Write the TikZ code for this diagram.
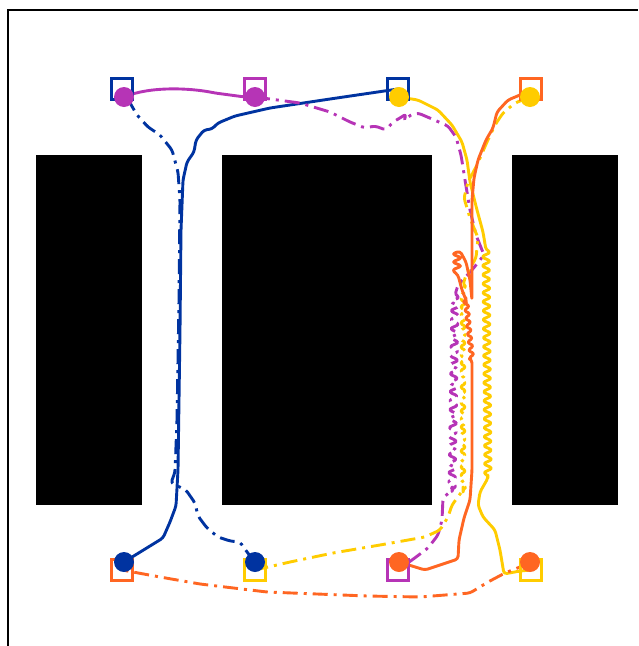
\documentclass[tikz,border=0pt]{standalone}
\usetikzlibrary{decorations.pathmorphing}
\definecolor{pblue}{RGB}{0,51,160}
\definecolor{pmag}{RGB}{182,52,182}
\definecolor{pyel}{RGB}{255,204,0}
\definecolor{pora}{RGB}{255,102,34}
\pgfdeclarelayer{walls}
\pgfdeclarelayer{trails}
\pgfsetlayers{walls,trails,main}
\begin{document}
\begin{tikzpicture}[x=1pt,y=-1pt,
  trail/.style={line width=2.9pt,line join=round,rounded corners=3pt},
  dd/.style={dash pattern=on 15pt off 6pt on 3pt off 6pt},
  goal/.style={rectangle,draw,line width=3.4pt,minimum size=21pt,inner sep=0pt},
  start/.style={circle,fill,minimum size=20pt,inner sep=0pt},
  zz/.style={decoration={zigzag,segment length=9pt,amplitude=5pt}},
  zs/.style={decoration={zigzag,segment length=8pt,amplitude=3.5pt}}]
\useasboundingbox (0,0) rectangle (638,646);

% axes frame
\draw[line width=1.4pt] (8,646) -- (8,10) -- (638,10);

% walls
\begin{pgfonlayer}{walls}
\fill[black] (36,155) rectangle (142,505);
\fill[black] (222,155) rectangle (432,505);
\fill[black] (512,155) rectangle (618,505);
\end{pgfonlayer}

% goals
\node[goal,draw=pblue] (g1) at (122,89) {};
\node[goal,draw=pmag]  (g2) at (255,89) {};
\node[goal,draw=pblue] (g3) at (398,89) {};
\node[goal,draw=pora]  (g4) at (531,89) {};
\node[goal,draw=pora]  (g5) at (122,570) {};
\node[goal,draw=pyel]  (g6) at (255,570) {};
\node[goal,draw=pmag]  (g7) at (398,570) {};
\node[goal,draw=pyel]  (g8) at (531,570) {};

% starts
\node[start,fill=pmag]  (s1) at (124,97) {};
\node[start,fill=pmag]  (s2) at (255,97) {};
\node[start,fill=pyel]  (s3) at (399,97) {};
\node[start,fill=pyel]  (s4) at (530,97) {};
\node[start,fill=pblue] (s5) at (124,562) {};
\node[start,fill=pblue] (s6) at (255,562) {};
\node[start,fill=pora]  (s7) at (399,562) {};
\node[start,fill=pora]  (s8) at (530,562) {};

\begin{pgfonlayer}{trails}
% blue, solid
\draw[trail,pblue] (s5.center) -- (163,538) -- (170,522) -- (176,506) -- (178,470)
  -- (180,330) -- (181,230) -- (183,180) -- (187,162) -- (194,152) -- (196,140)
  -- (204,130) -- (212,129) -- (218,123) -- (235,116) -- (270,108) -- (330,99) -- (g3.center);
% blue, dash-dot
\draw[trail,dd,pblue] (s6.center) -- (247,552) -- (240,542) -- (230,541) -- (218,537)
  -- (207,528) -- (198,516) -- (195,503) -- (186,490) -- (171,483) -- (175,472)
  -- (177,420) -- (179,300) -- (180,200) -- (178,172) -- (172,150) -- (160,135)
  -- (148,127) -- (137,115) -- (g1.center);
% magenta, solid
\draw[trail,pmag] (s1.center) .. controls (150,86) and (190,88) .. (215,93) -- (245,97) -- (g2.center);
% magenta, dash-dot
\draw[trail,dd,pmag] (s2.center) -- (300,103) -- (330,112) -- (350,122) -- (365,128)
  -- (375,126) -- (386,130) -- (393,122) -- (400,118) -- (406,114) -- (404,122)
  -- (410,115) -- (418,113) -- (432,119) -- (448,126) -- (456,137) -- (461,155)
  -- (465,180) -- (470,210) -- (476,235) -- (484,255) -- (472,270) -- (458,285) -- (455,295)
  decorate[zz] {-- (452,490)} -- (443,498) -- (442,520) -- (438,535) -- (428,548)
  -- (412,560) -- (g7.center);
% yellow, solid
\draw[trail,pyel] (s3.center) -- (418,100) -- (438,110) -- (452,125) -- (462,142)
  -- (467,160) -- (470,182) -- (477,210) -- (483,232) -- (486,250)
  decorate[zz] {-- (488,478)} -- (480,492) -- (478,505) -- (483,517) -- (495,530)
  -- (500,550) -- (504,574) -- (520,571) -- (g8.center);
% yellow, dash-dot
\draw[trail,dd,pyel] (s4.center) -- (515,103) -- (503,113) -- (495,125) -- (487,142)
  -- (477,165) -- (468,182) -- (464,198) -- (470,218) -- (478,238) -- (476,258)
  -- (466,275) -- (463,285) decorate[zs] {-- (463,490)} -- (452,505) -- (448,517)
  -- (440,530) -- (425,537) -- (380,545) -- (333,553) -- (290,562) -- (g6.center);
% orange, solid
\draw[trail,pora] (s7.center) -- (425,570) -- (458,559) -- (459,540) -- (464,518)
  -- (470,500) -- (472,470) -- (472,360) decorate[zs] {-- (466,300)} -- (462,290)
  -- (458,275) -- (452,270) -- (462,266) -- (452,262) -- (462,258) -- (452,254)
  -- (460,251) -- (466,262) -- (470,280) -- (472,300) -- (472,200) -- (474,178)
  -- (478,160) -- (486,140) -- (493,128) -- (497,112) -- (508,100) -- (520,95) -- (g4.center);
% orange, dash-dot
\draw[trail,dd,pora] (s8.center) -- (520,567) -- (505,573) -- (488,582) -- (470,593)
  -- (420,597) -- (367,596) -- (267,592) -- (200,584) -- (160,577) -- (g5.center);
\end{pgfonlayer}
\end{tikzpicture}
\end{document}
